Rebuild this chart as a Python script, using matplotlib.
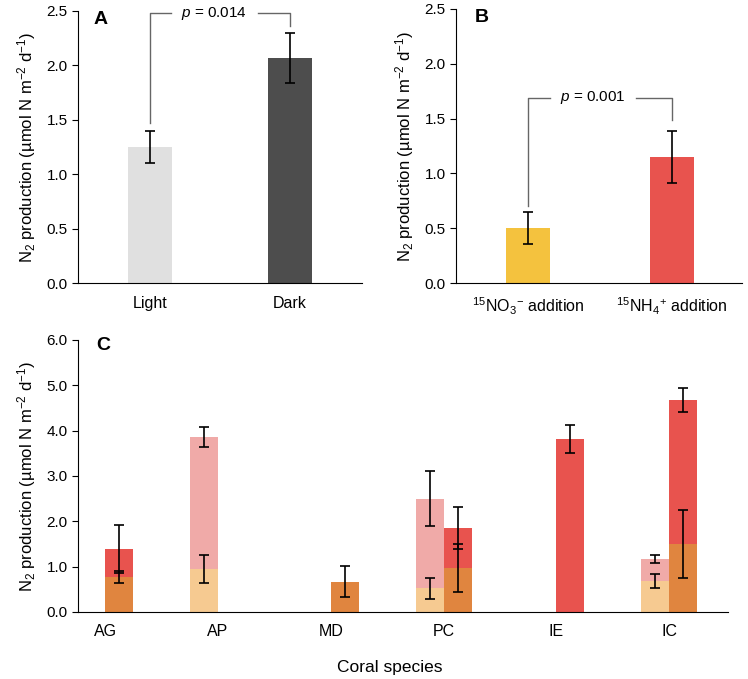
import numpy as np
import matplotlib.pyplot as plt

plt.rcParams['font.family'] = ['Liberation Sans', 'DejaVu Sans']
plt.rcParams['mathtext.fontset'] = 'custom'
plt.rcParams['mathtext.rm'] = 'Liberation Sans'
plt.rcParams['mathtext.it'] = 'Liberation Sans:italic'

# panel A: light vs dark
light_dark = ['Light', 'Dark']
ld_mean = [1.25, 2.07]
ld_err = [0.145, 0.23]

# panel B: nitrogen source
n_source = ['$^{15}$NO$_3$$^{-}$ addition', '$^{15}$NH$_4$$^{+}$ addition']
ns_mean = [0.50, 1.15]
ns_err = [0.145, 0.235]

# panel C: coral species (nan = not measured)
species = ['AG', 'AP', 'MD', 'PC', 'IE', 'IC']
pink_mean = [np.nan, 3.85, np.nan, 2.50, np.nan, 1.16]
pink_err = [np.nan, 0.22, np.nan, 0.60, np.nan, 0.09]
ltor_mean = [np.nan, 0.95, np.nan, 0.52, np.nan, 0.68]
ltor_err = [np.nan, 0.30, np.nan, 0.24, np.nan, 0.16]
red_mean = [1.38, np.nan, np.nan, 1.85, 3.81, 4.68]
red_err = [0.53, np.nan, np.nan, 0.47, 0.31, 0.26]
dkor_mean = [0.77, np.nan, 0.67, 0.96, np.nan, 1.49]
dkor_err = [0.14, np.nan, 0.35, 0.53, np.nan, 0.75]

ylab = 'N$_2$ production (µmol N m$^{-2}$ d$^{-1}$)'
ekw = dict(ecolor='black', elinewidth=1.2, capsize=3.5, capthick=1.2)

fig = plt.figure(figsize=(7.48, 6.79), dpi=100)
axA = fig.add_axes([0.1043, 0.5832, 0.3797, 0.4006])
axB = fig.add_axes([0.6096, 0.5832, 0.3824, 0.4036])
axC = fig.add_axes([0.1043, 0.0987, 0.869, 0.4006])


def style(ax):
    for s in ['top', 'right']:
        ax.spines[s].set_visible(False)
    ax.tick_params(axis='x', length=0, pad=9, labelsize=11.5)
    ax.tick_params(axis='y', length=4, labelsize=11)
    ax.set_ylabel(ylab, fontsize=12, labelpad=6)


def bracket(ax, x0, x1, y0, y1, ytop, txt, tx, gap):
    ax.plot([x0, x0, tx - gap], [y0, ytop, ytop], color='#666666', lw=1)
    ax.plot([tx + gap, x1, x1], [ytop, ytop, y1], color='#666666', lw=1)
    ax.text(tx, ytop, txt, ha='center', va='center', fontsize=11)


# A
x = np.arange(len(light_dark))
axA.bar(x, ld_mean, width=0.32, color=['#e0e0e0', '#4d4d4d'])
axA.errorbar(x, ld_mean, yerr=ld_err, fmt='none', **ekw)
axA.set_xticks(x, light_dark)
axA.set_xlim(-0.514, 1.514)
axA.set_ylim(0, 2.5)
axA.set_yticks(np.arange(0, 2.51, 0.5))
axA.yaxis.set_major_formatter('{x:.1f}')
style(axA)
bracket(axA, 0, 1, 1.47, 2.36, 2.48, '$\\it{p}$ = 0.014', 0.46, 0.31)
axA.text(-0.35, 2.42, 'A', fontsize=14, fontweight='bold', ha='center', va='center')

# B
x = np.arange(len(n_source))
axB.bar(x, ns_mean, width=0.31, color=['#f4c23e', '#e8534e'])
axB.errorbar(x, ns_mean, yerr=ns_err, fmt='none', **ekw)
axB.set_xticks(x, n_source)
axB.set_xlim(-0.5, 1.486)
axB.set_ylim(0, 2.5)
axB.set_yticks(np.arange(0, 2.51, 0.5))
axB.yaxis.set_major_formatter('{x:.1f}')
style(axB)
bracket(axB, 0, 1, 0.70, 1.49, 1.69, '$\\it{p}$ = 0.001', 0.45, 0.30)
axB.text(-0.32, 2.42, 'B', fontsize=14, fontweight='bold', ha='center', va='center')

# C
x = np.arange(len(species))
w = 0.248
axC.bar(x - w / 2, pink_mean, width=w, color='#f0aaa8')
axC.bar(x - w / 2, ltor_mean, width=w, color='#f6ca91')
axC.bar(x + w / 2, red_mean, width=w, color='#e8534e')
axC.bar(x + w / 2, dkor_mean, width=w, color='#e0853f')
axC.errorbar(x - w / 2, pink_mean, yerr=pink_err, fmt='none', **ekw)
axC.errorbar(x - w / 2, ltor_mean, yerr=ltor_err, fmt='none', **ekw)
axC.errorbar(x + w / 2, red_mean, yerr=red_err, fmt='none', **ekw)
axC.errorbar(x + w / 2, dkor_mean, yerr=dkor_err, fmt='none', **ekw)
axC.set_xticks(x, species)
axC.set_xlim(-0.24, 5.52)
axC.set_ylim(0, 6)
axC.set_yticks(np.arange(0, 6.01, 1))
axC.yaxis.set_major_formatter('{x:.1f}')
style(axC)
axC.set_xlabel('Coral species', fontsize=12.5)
axC.xaxis.set_label_coords(0.48, -0.175)
axC.text(-0.02, 5.88, 'C', fontsize=14, fontweight='bold', ha='center', va='center')

fig.savefig('out.png', dpi=100)
